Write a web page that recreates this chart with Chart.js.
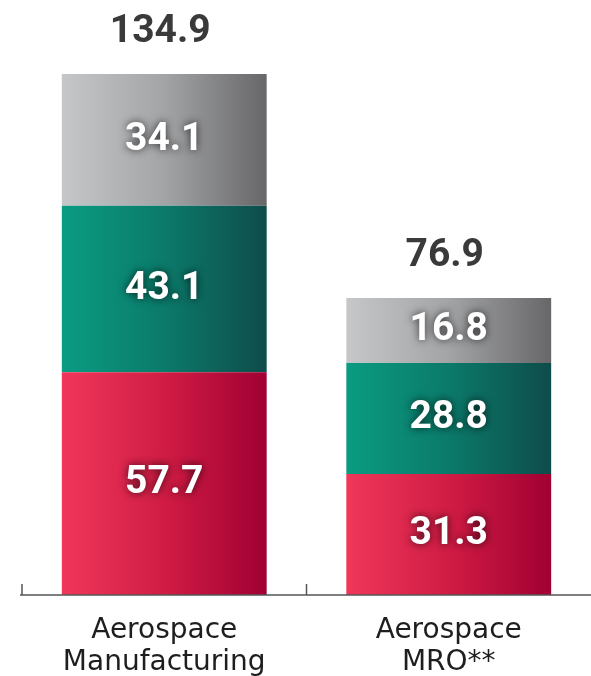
<!DOCTYPE html>
<html>
<head>
<meta charset="utf-8">
<script src="https://cdn.jsdelivr.net/npm/chart.js@4.4.1/dist/chart.umd.min.js"></script>
<style>
  html, body { margin: 0; padding: 0; background: #fff; }
  #wrap { width: 591px; height: 676px; position: relative; }
</style>
</head>
<body>
<div id="wrap"><canvas id="chart"></canvas></div>
<script>
const categories = [["Aerospace", "Manufacturing"], ["Aerospace", "MRO**"]];
const bottomValues = [57.7, 31.3];
const middleValues = [43.1, 28.8];
const topValues = [34.1, 16.8];
const totals = [134.9, 76.9];

// left -> right gradient stops per segment
const colorStops = {
  red: ["#f0375a", "#d01c44", "#a10033"],
  teal: ["#0a9c82", "#0b7a6a", "#0e4c4a"],
  gray: ["#c6c7c9", "#a3a4a6", "#67676a"]
};

function barGradient(stops) {
  return function (ctx) {
    const chart = ctx.chart;
    if (!chart.chartArea) return stops[0];
    const xs = chart.scales.x;
    const cx = xs.getPixelForValue(ctx.dataIndex);
    const half = (xs.width / categories.length) * 0.72 / 2;
    const g = chart.ctx.createLinearGradient(cx - half, 0, cx + half, 0);
    g.addColorStop(0, stops[0]);
    g.addColorStop(0.5, stops[1]);
    g.addColorStop(1, stops[2]);
    return g;
  };
}

// value labels in the bars + totals above, axis ticks
const labelPlugin = {
  id: "labels",
  afterDatasetsDraw(chart) {
    const ctx = chart.ctx;
    ctx.save();
    ctx.textAlign = "center";
    ctx.textBaseline = "middle";
    ctx.font = "bold 39px Roboto";
    chart.data.datasets.forEach((ds, i) => {
      chart.getDatasetMeta(i).data.forEach((bar, j) => {
        const mid = (bar.y + bar.base) / 2;
        ctx.shadowColor = "rgba(0,0,0,0.75)";
        ctx.shadowBlur = 9;
        ctx.fillStyle = "#ffffff";
        ctx.fillText(ds.data[j], bar.x, mid);
      });
    });
    ctx.shadowBlur = 0;
    ctx.shadowColor = "transparent";
    const topMeta = chart.getDatasetMeta(chart.data.datasets.length - 1);
    ctx.fillStyle = "#3a3a3a";
    topMeta.data.forEach((bar, j) => {
      ctx.fillText(totals[j].toFixed(1), bar.x - 4, bar.y - 42);
    });

    // axis line and upward ticks at category edges
    const xs = chart.scales.x;
    const area = chart.chartArea;
    const step = xs.width / categories.length;
    ctx.strokeStyle = "#555";
    ctx.lineWidth = 1.5;
    ctx.beginPath();
    ctx.moveTo(area.left - 2, area.bottom);
    ctx.lineTo(chart.width, area.bottom);
    for (let k = 0; k < categories.length; k++) {
      const tx = xs.left + step * k;
      ctx.moveTo(tx, area.bottom);
      ctx.lineTo(tx, area.bottom - 11);
    }
    ctx.stroke();
    ctx.restore();
  }
};

new Chart(document.getElementById("chart"), {
  type: "bar",
  data: {
    labels: categories,
    datasets: [
      { data: bottomValues, backgroundColor: barGradient(colorStops.red) },
      { data: middleValues, backgroundColor: barGradient(colorStops.teal) },
      { data: topValues, backgroundColor: barGradient(colorStops.gray) }
    ]
  },
  options: {
    responsive: true,
    maintainAspectRatio: false,
    animation: false,
    events: [],
    layout: { padding: { left: 22, right: 0, top: 74, bottom: 0 } },
    plugins: { legend: { display: false }, tooltip: { enabled: false } },
    datasets: { bar: { barPercentage: 0.72, categoryPercentage: 1, borderWidth: 0 } },
    scales: {
      x: {
        stacked: true,
        grid: { display: false },
        border: { display: false },
        ticks: {
          color: "#1e1e1e",
          font: { family: "DejaVu Sans", size: 28, lineHeight: 1.14 },
          padding: 12,
          maxRotation: 0
        },
        afterFit(scale) { scale.height = 81; }
      },
      y: {
        stacked: true,
        display: false,
        min: 0,
        max: 134.9
      }
    }
  },
  plugins: [labelPlugin]
});
</script>
</body>
</html>
